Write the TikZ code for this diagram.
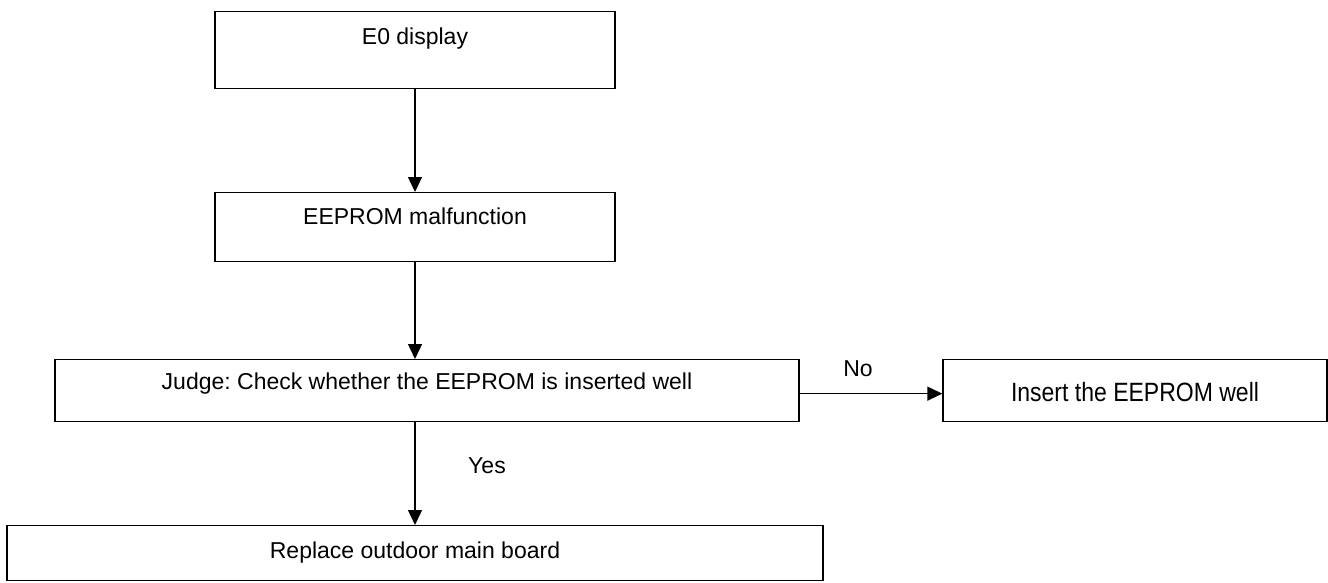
\documentclass[tikz,border=0pt]{standalone}
\usepackage{fontspec}
\setmainfont{Liberation Sans}
\usetikzlibrary{arrows.meta}
\frenchspacing
\begin{document}
\begin{tikzpicture}[x=1pt,y=-1pt,
  box/.style={draw, line width=1.3pt, inner sep=0pt, align=center, anchor=north,
    font=\fontsize{23}{27}\selectfont},
  arr/.style={line width=1.3pt, -{Triangle[length=15pt,width=14pt]}},
  lbl/.style={inner sep=0pt, anchor=base, font=\fontsize{23}{27}\selectfont}]
\useasboundingbox (0,0) rectangle (1328,583);
\node[box, minimum width=400pt, text height=33pt, text depth=44pt] (b1) at (415,11) {E0 display};
\node[box, minimum width=400pt, text height=32pt, text depth=37pt] (b2) at (415,192) {EEPROM malfunction};
\node[box, minimum width=744pt, text height=30pt, text depth=32pt] (b3) at (427,359) {Judge: Check whether the EEPROM is inserted well};
\node[box, minimum width=384pt, text height=42pt, text depth=20pt] (b4) at (1135,359) {\scalebox{1}[1.15]{Insert the EEPROM well}};
\node[box, minimum width=816pt, text height=33pt, text depth=22pt] (b5) at (415,525) {Replace outdoor main board};
\draw[arr] (b1.south) -- (b2.north);
\draw[arr] (b2.south) -- (b2.south |- b3.north);
\draw[arr] ([yshift=-3pt]b3.east) -- ([yshift=-3pt]b4.west);
\draw[arr] (b3.south -| b5.north) -- (b5.north);
\node[lbl] (no) at (858,376.7) {No};
\node[lbl] (yes) at (487,473.3) {Yes};
\end{tikzpicture}
\end{document}
